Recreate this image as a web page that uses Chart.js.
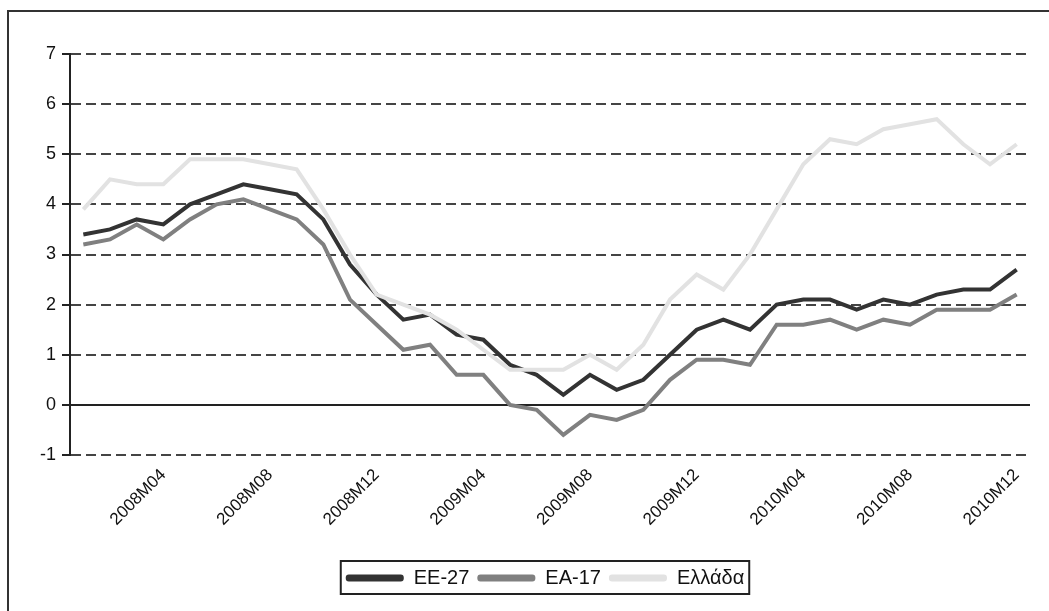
<!DOCTYPE html>
<html>
<head>
<meta charset="utf-8">
<script src="https://cdn.jsdelivr.net/npm/chart.js@4"></script>
<style>
  html, body { margin: 0; padding: 0; background: #fff; }
  #wrap { width: 1049px; height: 611px; }
</style>
</head>
<body>
<div id="wrap"><canvas id="grafico"></canvas></div>
<script>
const months = [
  '2008M01','2008M02','2008M03','2008M04','2008M05','2008M06','2008M07','2008M08','2008M09','2008M10','2008M11','2008M12',
  '2009M01','2009M02','2009M03','2009M04','2009M05','2009M06','2009M07','2009M08','2009M09','2009M10','2009M11','2009M12',
  '2010M01','2010M02','2010M03','2010M04','2010M05','2010M06','2010M07','2010M08','2010M09','2010M10','2010M11','2010M12'
];
const tickLabels = ['2008M04','2008M08','2008M12','2009M04','2009M08','2009M12','2010M04','2010M08','2010M12'];

const ee27 = [3.4,3.5,3.7,3.6,4.0,4.2,4.4,4.3,4.2,3.7,2.8,2.2, 1.7,1.8,1.4,1.3,0.8,0.6,0.2,0.6,0.3,0.5,1.0,1.5, 1.7,1.5,2.0,2.1,2.1,1.9,2.1,2.0,2.2,2.3,2.3,2.7];
const ea17 = [3.2,3.3,3.6,3.3,3.7,4.0,4.1,3.9,3.7,3.2,2.1,1.6, 1.1,1.2,0.6,0.6,0.0,-0.1,-0.6,-0.2,-0.3,-0.1,0.5,0.9, 0.9,0.8,1.6,1.6,1.7,1.5,1.7,1.6,1.9,1.9,1.9,2.2];
const ellada = [3.9,4.5,4.4,4.4,4.9,4.9,4.9,4.8,4.7,3.9,3.0,2.2, 2.0,1.8,1.5,1.1,0.7,0.7,0.7,1.0,0.7,1.2,2.1,2.6, 2.3,3.0,3.9,4.8,5.3,5.2,5.5,5.6,5.7,5.2,4.8,5.2];

const seriesNames = ['ΕΕ-27', 'ΕΑ-17', 'Ελλάδα'];
const colors = ['#333333', '#808080', '#e2e2e2'];

const fonte = '"Liberation Sans", Arial, sans-serif';

// frame round the chart + solid line at zero + box round legend
const molduraPlugin = {
  id: 'moldura',
  beforeDraw(chart) {
    const ctx = chart.ctx;
    ctx.save();
    ctx.fillStyle = '#fff';
    ctx.fillRect(0, 0, chart.width, chart.height);
    ctx.strokeStyle = '#333';
    ctx.lineWidth = 2;
    ctx.beginPath();
    ctx.moveTo(8, chart.height);
    ctx.lineTo(8, 11);
    ctx.lineTo(chart.width, 11);
    ctx.stroke();
    ctx.restore();
  },
  afterLayout(chart) {
    chart.legend.left += 30;
    chart.legend.right += 30;
  },
  beforeDatasetsDraw(chart) {
    const ctx = chart.ctx;
    const y0 = chart.scales.y.getPixelForValue(0);
    ctx.save();
    ctx.strokeStyle = '#222';
    ctx.lineWidth = 2;
    ctx.beginPath();
    ctx.moveTo(chart.chartArea.left, y0);
    ctx.lineTo(chart.chartArea.right, y0);
    ctx.stroke();
    ctx.restore();
  },
  afterDraw(chart) {
    const boxes = chart.legend.legendHitBoxes;
    if (!boxes || !boxes.length) return;
    let x1 = Infinity, x2 = -Infinity, y1 = Infinity, y2 = -Infinity;
    boxes.forEach(b => {
      x1 = Math.min(x1, b.left); x2 = Math.max(x2, b.left + b.width);
      y1 = Math.min(y1, b.top); y2 = Math.max(y2, b.top + b.height);
    });
    const ctx = chart.ctx;
    ctx.save();
    ctx.strokeStyle = '#222';
    ctx.lineWidth = 2;
    ctx.strokeRect(x1 - 5, y1 - 7, x2 - x1 + 10, y2 - y1 + 13);
    ctx.restore();
  }
};

function plotaGrafico() {
  const dados = [ee27, ea17, ellada];
  const datasets = [];
  for (let i = 0; i < dados.length; i++) {
    datasets.push({
      label: seriesNames[i],
      data: dados[i],
      borderColor: colors[i],
      backgroundColor: colors[i],
      borderWidth: 4,
      pointRadius: 0,
      tension: 0,
      order: dados.length - i
    });
  }

  const config = {
    type: 'line',
    data: { labels: months, datasets: datasets },
    plugins: [molduraPlugin],
    options: {
      responsive: true,
      maintainAspectRatio: false,
      animation: false,
      layout: { padding: { left: 0, right: 19, top: 54, bottom: 13 } },
      plugins: {
        tooltip: { enabled: false },
        legend: {
          position: 'bottom',
          labels: {
            boxWidth: 58,
            boxHeight: 7,
            padding: 8,
            color: '#111',
            font: { family: fonte, size: 20 },
            useBorderRadius: true,
            borderRadius: 3,
            sort: (a, b) => a.datasetIndex - b.datasetIndex,
            generateLabels(chart) {
              const itens = Chart.defaults.plugins.legend.labels.generateLabels(chart);
              return itens.map(it => Object.assign(it, { lineWidth: 0, borderRadius: 3 }));
            }
          }
        }
      },
      scales: {
        x: {
          offset: true,
          grid: { display: false },
          border: { display: false },
          ticks: {
            autoSkip: false,
            maxRotation: 45,
            minRotation: 45,
            padding: 2,
            color: '#111',
            font: { family: fonte, size: 17 },
            callback: function (value) {
              const lab = this.getLabelForValue(value);
              return tickLabels.includes(lab) ? lab : '';
            }
          },
          afterFit(scale) {
            scale.height = 105;
            scale.paddingLeft = 0;
            scale.paddingRight = 0;
          }
        },
        y: {
          min: -1,
          max: 7,
          border: { display: true, color: '#222', width: 2, dash: [10, 5] },
          grid: {
            color: '#444',
            lineWidth: 2,
            drawTicks: true,
            tickLength: 8,
            tickColor: '#222',
            tickWidth: 2,
            tickBorderDash: []
          },
          ticks: {
            stepSize: 1,
            padding: 6,
            color: '#111',
            font: { family: fonte, size: 18 }
          },
          afterFit(scale) {
            scale.width = 70;
            scale.paddingTop = 0;
            scale.paddingBottom = 0;
          }
        }
      }
    }
  };
  const grafico = document.getElementById('grafico');
  return new Chart(grafico, config);
}

plotaGrafico();
</script>
</body>
</html>
